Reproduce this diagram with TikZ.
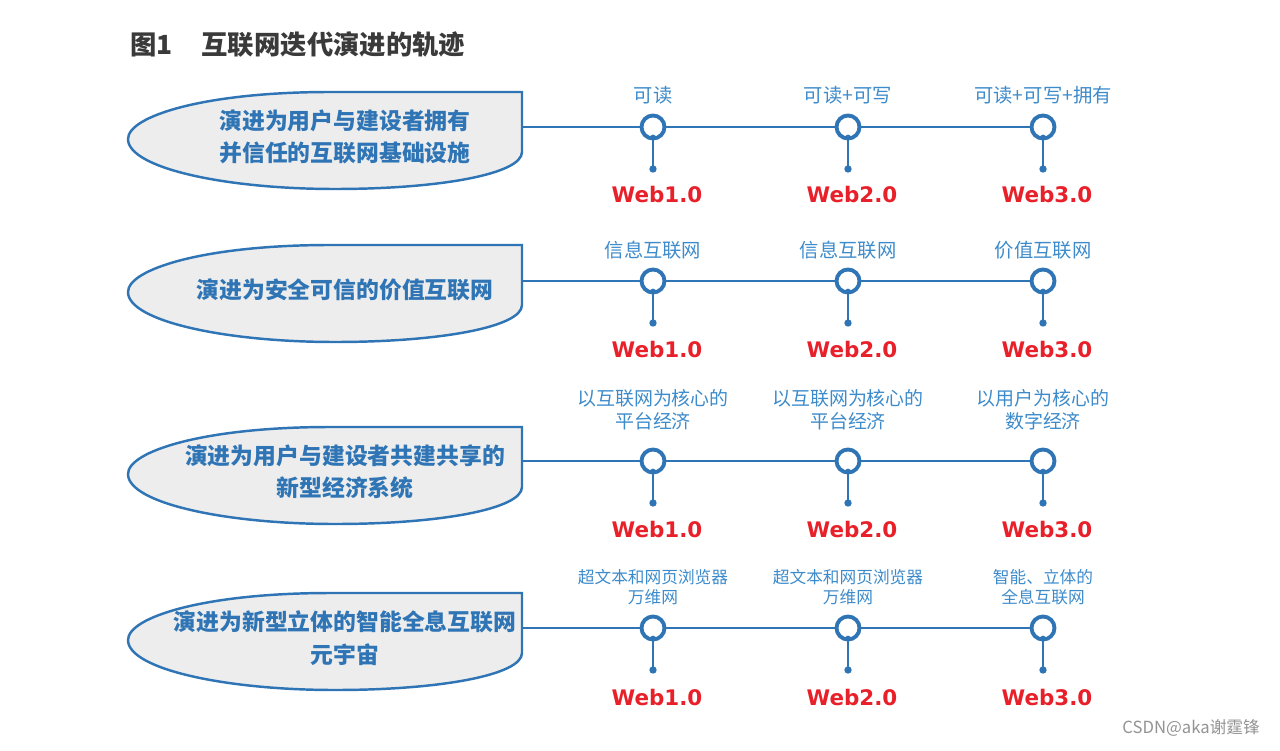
\documentclass[tikz,border=0pt]{standalone}
\usepackage{fontspec}
\setmainfont{Noto Sans CJK SC}
\newfontfamily\webfont{DejaVu Sans}
\definecolor{ink}{HTML}{3A3A3A}
\definecolor{edge}{HTML}{2F75B5}
\definecolor{skyblue}{HTML}{3D8BCB}
\definecolor{webred}{HTML}{E8202A}
\definecolor{shade}{HTML}{EDEDED}

\begin{document}
\begin{tikzpicture}[x=0.02cm,y=-0.02cm,
  stage/.style={circle,draw=edge,line width=2.2pt,fill=white,
    minimum size=0.46cm,inner sep=0pt},
  pin/.style={circle,fill=edge,minimum size=4.2pt,inner sep=0pt},
  webtag/.style={font=\webfont\bfseries\fontsize{12.2}{14}\selectfont,
    text=webred},
  era/.style={text=skyblue,align=center},
  goal/.style={text=edge,align=center,
    font=\bfseries\fontsize{13}{18.5}\selectfont}]
  \useasboundingbox (0,0) rectangle (1280,750);

  \node[anchor=west,text=ink,font=\bfseries\fontsize{15}{18}\selectfont]
    (title) at (124,45) {图1\hspace{1.1em}互联网迭代演进的轨迹};

  % one row per goal: shield, timeline, three stages
  \foreach \r/\yt/\yl/\ya/\yw/\es/\goaltext/\la/\lb/\lc in {
    1/92/127/95/195/11/{演进为用户与建设者拥有\\并信任的互联网基础设施}/{可读}/{可读+可写}/{可读+可写+拥有},
    2/245/281/250/350/11/{演进为安全可信的价值互联网}/{信息互联网}/{信息互联网}/{价值互联网},
    3/427/461/410/530/10.8/{演进为用户与建设者共建共享的\\新型经济系统}/{以互联网为核心的\\平台经济}/{以互联网为核心的\\平台经济}/{以用户为核心的\\数字经济},
    4/593/628/587/697/9.5/{演进为新型立体的智能全息互联网\\元宇宙}/{超文本和网页浏览器\\万维网}/{超文本和网页浏览器\\万维网}/{智能、立体的\\全息互联网}}{
    \pgfmathsetmacro{\eb}{1.2*\es}
    \draw[edge,line width=1.4pt,fill=shade]
      (522,\yt) -- (330,\yt)
      .. controls (205,\yt) and (128,\yt+24) .. (128,\yt+47)
      .. controls (128,\yt+76) and (225,\yt+97) .. (335,\yt+97)
      .. controls (440,\yt+97) and (522,\yt+82) .. (522,\yt+60) -- cycle;
    \node[goal] (g\r) at (345,\yt+45) {\goaltext};
    \coordinate (e\r) at (522,\yl);

    \foreach \x/\lab [count=\i] in {653/\la,848/\lb,1043/\lc}{
      \node[stage] (c\r-\i) at (\x,\yl) {};
      \node[pin] (d\r-\i) at (\x,\yl+42) {};
      \node[pin,minimum size=3.4pt] (k\r-\i) at ([yshift=1.6pt]c\r-\i.south) {};
      \node[era,font=\fontsize{\es}{\eb}\selectfont] (l\r-\i) at (\x,\ya) {\lab};
      \node[webtag] (w\r-\i) at (\x+4,\yw) {Web\i.0};
      \draw[edge,line width=1.2pt] (c\r-\i.south) -- (d\r-\i.center);
    }
    \draw[edge,line width=0.9pt] (e\r) -- (c\r-1) -- (c\r-2) -- (c\r-3);
  }

  \node[anchor=east,text=gray!85,font=\fontsize{9.5}{11}\selectfont]
    (mark) at (1266,728) {CSDN@aka谢霆锋};
\end{tikzpicture}
\end{document}
